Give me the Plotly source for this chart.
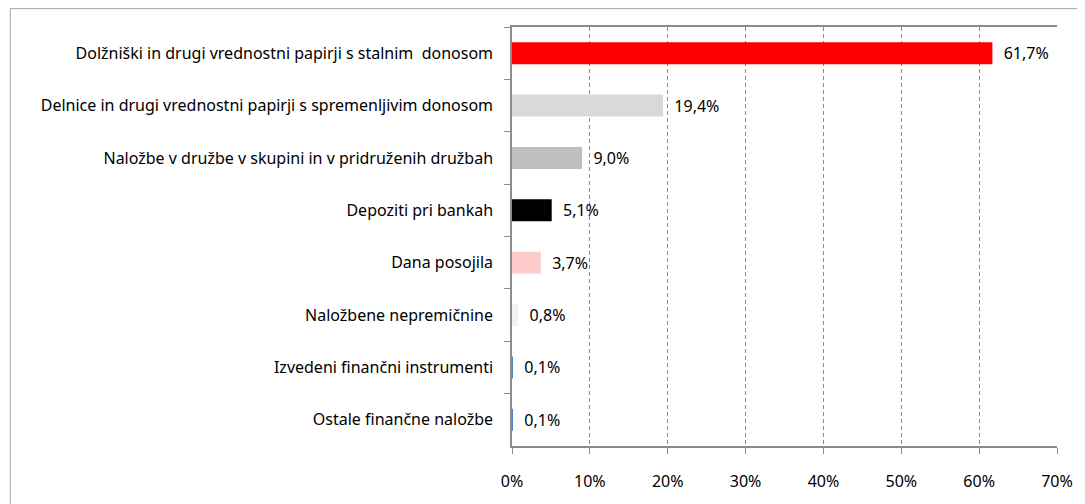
import plotly.graph_objs as go

# struktura naložb (delež v %)
categories = [
    "Dolžniški in drugi vrednostni papirji s stalnim  donosom",
    "Delnice in drugi vrednostni papirji s spremenljivim donosom",
    "Naložbe v družbe v skupini in v pridruženih družbah",
    "Depoziti pri bankah",
    "Dana posojila",
    "Naložbene nepremičnine",
    "Izvedeni finančni instrumenti",
    "Ostale finančne naložbe",
]
shares = [61.7, 19.4, 9.0, 5.1, 3.7, 0.8, 0.1, 0.1]
bar_colors = ["#FF0000", "#D9D9D9", "#BFBFBF", "#000000",
              "#FFCCCC", "#F2F2F2", "#4F81BD", "#4F81BD"]
x_ticks = [0, 10, 20, 30, 40, 50, 60, 70]
x_labels = [f"{t}%" for t in x_ticks]

font_name = "Noto Sans, Open Sans, sans-serif"

fig = go.Figure()
fig.add_trace(go.Bar(
    y=categories, x=shares, orientation="h",
    marker=dict(color=bar_colors, line=dict(width=0)),
    width=0.42,
    texttemplate="\u00a0\u00a0%{x:.1f}%",
    textposition="outside",
    cliponaxis=False,
    textfont=dict(family=font_name, size=16, color="#000000"),
))

# the page sits 8px in from the window corner
W, H = 1077, 496
ml, mr, mt, mb = 504, 26, 19, 55
pw, ph = W - ml - mr, H - mt - mb

def px_x(p):
    return (p - ml) / pw

def px_y(p):
    return (H - mb - p) / ph

# chart frame (right and bottom edges fall outside the window)
fig.add_shape(type="rect", xref="paper", yref="paper",
              x0=px_x(0.5), x1=px_x(W + 20), y0=px_y(H + 20), y1=px_y(0.5),
              line=dict(color="#A6A6A6", width=1), layer="below")

fig.update_layout(
    width=W, height=H,
    margin=dict(l=ml, r=mr, t=mt, b=mb),
    paper_bgcolor="white", plot_bgcolor="white",
    separators=", ",
    showlegend=False,
    font=dict(family=font_name, size=16, color="#000000"),
)
fig.update_xaxes(
    range=[0, 70], tickvals=x_ticks, ticktext=x_labels,
    showgrid=True, gridcolor="#8C8C8C", griddash="4px,3px", gridwidth=1.2,
    showline=True, linecolor="#8C8C8C", linewidth=1.5, mirror=True,
    ticks="outside", ticklen=6, tickcolor="#8C8C8C",
    ticklabelstandoff=14, zeroline=False,
    tickfont=dict(family=font_name, size=16),
)
fig.update_yaxes(
    autorange="reversed", tickson="boundaries",
    showline=True, linecolor="#8C8C8C", linewidth=1.5,
    ticks="outside", ticklen=6, tickcolor="#8C8C8C",
    ticklabelstandoff=14, showgrid=False,
    tickfont=dict(family=font_name, size=16),
)

fig.write_html("out.html")
